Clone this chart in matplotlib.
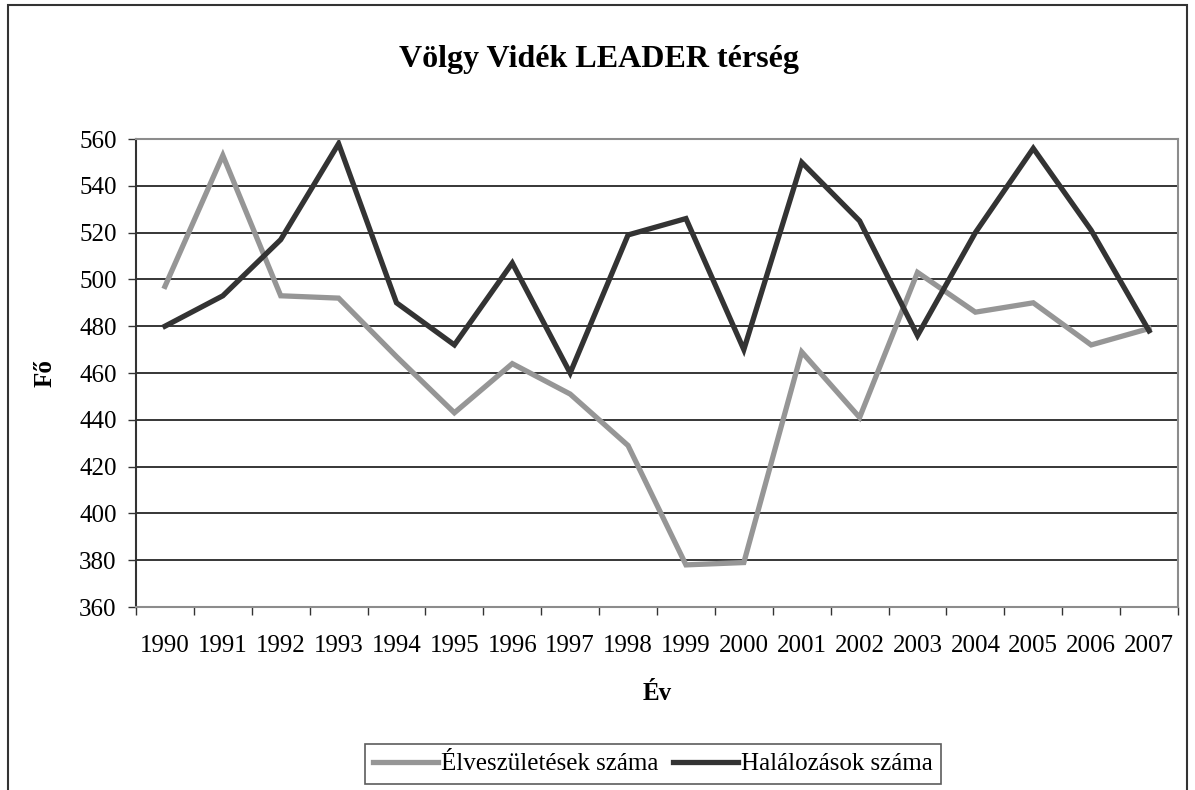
import matplotlib
matplotlib.use("Agg")
import matplotlib.pyplot as plt
from matplotlib.patches import Rectangle
import numpy as np

years = ["1990", "1991", "1992", "1993", "1994", "1995", "1996", "1997", "1998",
         "1999", "2000", "2001", "2002", "2003", "2004", "2005", "2006", "2007"]
births = [497, 553, 493, 492, 467, 443, 464, 451, 429, 378, 379, 469, 441, 503, 486, 490, 472, 479]
deaths = [480, 493, 517, 558, 490, 472, 507, 460, 519, 526, 470, 550, 525, 476, 520, 556, 521, 478]

title = "Völgy Vidék LEADER térség"
xlabel = "Év"
ylabel = "Fő"
series_names = ["Élveszületések száma", "Halálozások száma"]

plt.rcParams['font.family'] = ['Liberation Serif', 'DejaVu Serif']

W, H = 1195, 790
fig = plt.figure(figsize=(W / 100, H / 100), dpi=100)

# outer chart border (bottom cut off)
fig.patches.append(Rectangle((8 / W, -0.05), (1187 - 8) / W, 1.05 - 5 / H,
                             transform=fig.transFigure, fill=False,
                             edgecolor='#333333', linewidth=1.5))

left, right, top, bottom = 136, 1178, 139, 607
ax = fig.add_axes([left / W, 1 - bottom / H, (right - left) / W, (bottom - top) / H])

x = np.arange(len(years))
ax.plot(x, births, color='#969696', linewidth=3.8, solid_joinstyle='miter', label=series_names[0])
ax.plot(x, deaths, color='#333333', linewidth=3.8, solid_joinstyle='miter', label=series_names[1])

ax.set_xlim(-0.5, len(years) - 0.5)
ax.set_ylim(360, 560)
ax.set_yticks(np.arange(360, 561, 20))
ax.set_xticks(x)
ax.set_xticklabels(years)
ax.set_xticks(np.arange(-0.5, len(years), 1), minor=True)
ax.tick_params(axis='x', which='major', length=0, pad=20, labelsize=18)
ax.tick_params(axis='x', which='minor', length=6, width=1, color='#333333', direction='out')
ax.tick_params(axis='y', length=6, width=1, color='#333333', pad=8, labelsize=18)

ax.yaxis.grid(True, color='black', linewidth=1.1)
ax.set_axisbelow(True)

for s in ['top', 'right', 'bottom']:
    ax.spines[s].set_color('#8c8c8c')
    ax.spines[s].set_linewidth(1.5)
ax.spines['left'].set_color('#333333')
ax.spines['left'].set_linewidth(1.5)

fig.text(599 / W, 1 - 60 / H, title, ha='center', va='center', fontsize=23, fontweight='bold')
fig.text(657 / W, 1 - 693 / H, xlabel, ha='center', va='center', fontsize=18, fontweight='bold')
fig.text(45 / W, 1 - 373 / H, ylabel, ha='center', va='center', fontsize=18, fontweight='bold', rotation=90)

leg = fig.legend(loc='center', bbox_to_anchor=(653 / W, 1 - 764 / H), ncol=2, frameon=True,
                 fancybox=False, edgecolor='#333333', fontsize=18, handlelength=2.6,
                 handletextpad=0.1, columnspacing=0.6, borderpad=0.35, borderaxespad=0)
leg.get_frame().set_linewidth(1.2)

fig.savefig("out.png", dpi=100)
